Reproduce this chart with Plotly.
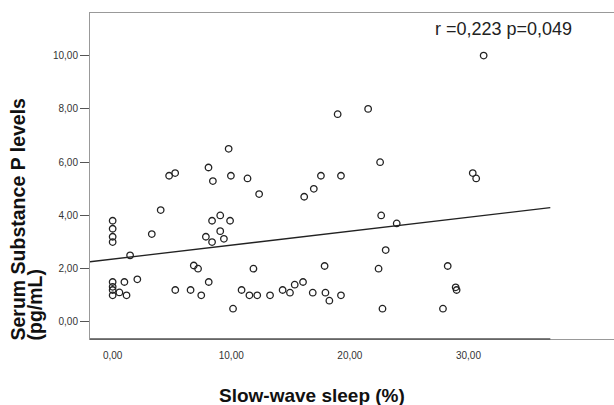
import plotly.graph_objects as go

# ---- data ----
sws_pct = [0, 0, 0, 0, 1.47, 3.3, 4.05, 4.76, 5.27, 6.84, 7.2, 8.08, 8.45, 7.86, 8.38, 8.38,
           9.07, 9.07, 9.38, 9.78, 9.97, 9.9, 11.37, 12.35, 16.15, 16.96, 17.56, 19.25,
           22.55, 22.64, 23.95, 23.02, 30.36, 30.65, 31.28, 18.97, 21.54, 11.87, 17.87,
           22.42, 28.25,
           0, 0, 0, 0, 0.57, 0.99, 1.17, 2.08, 5.28, 6.57, 7.47, 8.1, 10.15, 10.87, 11.53,
           12.19, 13.27, 14.33, 14.95, 15.35, 16.05, 16.87, 17.94, 18.27, 19.25, 22.75,
           27.85, 28.92, 29.0]
substance_p = [3.8, 3.5, 3.2, 3.0, 2.5, 3.3, 4.2, 5.49, 5.59, 2.12, 2.0, 5.8, 5.29, 3.2, 3.8, 3.0,
               4.0, 3.41, 3.12, 6.5, 5.49, 3.8, 5.39, 4.8, 4.7, 5.0, 5.49, 5.49,
               6.0, 4.0, 3.7, 2.7, 5.59, 5.39, 10.0, 7.8, 8.0, 2.0, 2.1,
               2.0, 2.1,
               1.5, 1.32, 1.2, 1.0, 1.11, 1.5, 1.0, 1.6, 1.2, 1.2, 1.0, 1.5, 0.5, 1.2, 1.0,
               1.0, 1.0, 1.2, 1.1, 1.4, 1.5, 1.1, 1.1, 0.8, 1.0, 0.5,
               0.5, 1.3, 1.2]

fit_x = [-1.91, 36.9]
fit_y = [2.26, 4.29]

x_ticks = [0, 10, 20, 30]
x_ticklabels = ["0,00", "10,00", "20,00", "30,00"]
y_ticks = [0, 2, 4, 6, 8, 10]
y_ticklabels = ["0,00", "2,00", "4,00", "6,00", "8,00", "10,00"]

stat_text = "r =0,223 p=0,049"
x_title = "Slow-wave sleep (%)"
y_title_1 = "Serum Substance P levels"
y_title_2 = "(pg/mL)"

FONT = "Liberation Sans, Arial, sans-serif"

fig = go.Figure()
fig.add_trace(go.Scatter(
    x=fit_x, y=fit_y, mode="lines",
    line=dict(color="#222222", width=1.3), hoverinfo="skip", showlegend=False))
fig.add_trace(go.Scatter(
    x=sws_pct, y=substance_p, mode="markers",
    marker=dict(symbol="circle-open", size=6.5, color="#222222", line=dict(width=1.3)),
    showlegend=False))

fig.update_layout(
    width=614, height=405,
    margin=dict(l=90, r=0, t=13, b=66),
    paper_bgcolor="white", plot_bgcolor="white",
    font=dict(family=FONT, color="#333333"),
    xaxis=dict(range=[-1.91, 42.27], tickvals=x_ticks, ticktext=x_ticklabels,
               showgrid=False, zeroline=False, showline=True, mirror=True,
               linecolor="#999999", linewidth=1,
               ticks="outside", ticklen=7, tickcolor="rgba(0,0,0,0)",
               tickfont=dict(size=10, color="#333333")),
    yaxis=dict(range=[-0.64, 11.6], tickvals=y_ticks, ticktext=y_ticklabels,
               showgrid=False, zeroline=False, showline=True,
               linecolor="#999999", linewidth=1,
               ticks="outside", ticklen=9, tickcolor="#555555", tickwidth=1,
               tickfont=dict(size=10, color="#333333")),
)

# darker axis segment along the bottom, spanning the fit range
fig.add_shape(type="line", xref="x", yref="paper", x0=fit_x[0], x1=fit_x[1], y0=0, y1=0,
              line=dict(color="#555555", width=1.3))

fig.add_annotation(text=stat_text, xref="paper", yref="paper", x=0.6546, y=0.951,
                   xanchor="left", yanchor="middle", showarrow=False,
                   font=dict(family=FONT, size=18, color="#222222"))
fig.add_annotation(text="<b>" + x_title + "</b>", xref="paper", yref="paper",
                   x=0.4237, y=-0.1718, xanchor="center", yanchor="middle", showarrow=False,
                   font=dict(family=FONT, size=19, color="#111111"))
fig.add_annotation(text="<b>" + y_title_1 + "</b>", xref="paper", yref="paper",
                   x=-0.1355, y=-0.0092, xanchor="center", yanchor="bottom", textangle=-90,
                   showarrow=False, font=dict(family=FONT, size=19.5, color="#111111"))
fig.add_annotation(text="<b>" + y_title_2 + "</b>", xref="paper", yref="paper",
                   x=-0.1031, y=-0.0092, xanchor="center", yanchor="bottom", textangle=-90,
                   showarrow=False, font=dict(family=FONT, size=19.5, color="#111111"))

fig.write_html("out.html", config={"displayModeBar": False},
               post_script="document.body.style.margin='0px';document.body.style.padding='0px';")
